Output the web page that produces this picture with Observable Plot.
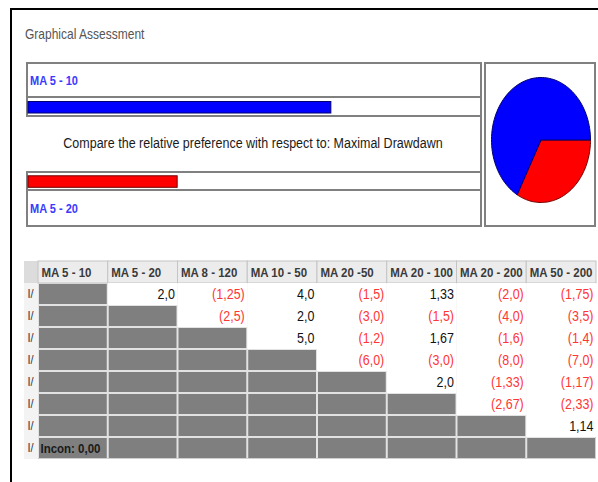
<!DOCTYPE html>
<html><head><meta charset="utf-8">
<script src="https://cdn.jsdelivr.net/npm/d3@7"></script>
<script src="https://cdn.jsdelivr.net/npm/@observablehq/plot@0.6"></script>
<style>
html,body{margin:0;padding:0;background:#fff;}
#root{position:relative;width:598px;height:482px;overflow:hidden;font-family:"Liberation Sans",Arial,sans-serif;}
.abs{position:absolute;box-sizing:border-box;}
.txt{position:absolute;white-space:nowrap;line-height:1;}
svg{position:absolute;overflow:visible;}
</style></head><body><div id="root"></div>
<script>
const FONT = '"Liberation Sans",Arial,sans-serif';
const title = "Graphical Assessment";
const alternatives = ["MA 5 - 10", "MA 5 - 20"];
const priorities = [0.67, 0.33];
const altColors = ["#0000ff", "#ff0000"];
const altStrokes = ["#000070", "#700000"];
const criterion = "Maximal Drawdawn";
const categories = ["MA 5 - 10","MA 5 - 20","MA 8 - 120","MA 10 - 50","MA 20 -50","MA 20 - 100","MA 20 - 200","MA 50 - 200"];
// upper-triangle judgments, row by row; negative = inverse judgment (red, in parentheses)
const judgments = [
  [2.0, -1.25, 4.0, -1.5, 1.33, -2.0, -1.75],
  [-2.5, 2.0, -3.0, -1.5, -4.0, -3.5],
  [5.0, -1.2, 1.67, -1.6, -1.4],
  [-6.0, -3.0, -8.0, -7.0],
  [2.0, -1.33, -1.17],
  [-2.67, -2.33],
  [1.14]
];
const inconsistency = 0.00;
const rowMarks = ["I/","I/","I/","I/","I/","I/","I/","I/"];

const root = document.getElementById("root");
function box(l,t,w,h,css){const d=document.createElement("div");d.className="abs";Object.assign(d.style,{left:l+"px",top:t+"px",width:w+"px",height:h+"px"},css||{});root.appendChild(d);return d;}
function text(s,l,t,css){const d=document.createElement("div");d.className="txt";d.textContent=s;Object.assign(d.style,{left:l+"px",top:t+"px"},css||{});root.appendChild(d);return d;}
function place(svg,l,t){svg.style.left=l+"px";svg.style.top=t+"px";root.appendChild(svg);}
function stretch(svg,k){d3.select(svg).selectAll("text").each(function(){const t=this.getAttribute("transform");if(t)this.setAttribute("transform",t+` scale(1,${k})`);});}

// outer black frame
box(10,8,620,500,{borderLeft:"2px solid #000",borderTop:"2px solid #000"});
text(title,25,29,{fontSize:"12px",color:"#555",transform:"scaleY(1.2)",transformOrigin:"0 10px"});

// left panel frames
const G="#808080";
box(26,62,456,55,{border:"2px solid "+G});
box(26,96,456,2,{background:G});
box(26,171,456,56,{border:"2px solid "+G});
box(26,189,456,2,{background:G});
box(480,62,2,165,{background:G});
// pie panel
box(484,62,112,165,{border:"2px solid "+G});

text(alternatives[0],30,76,{fontSize:"11px",fontWeight:"bold",color:"#3a3aff",transform:"scaleY(1.15)",transformOrigin:"0 9px"});
text(alternatives[1],30,204,{fontSize:"11px",fontWeight:"bold",color:"#3a3aff",transform:"scaleY(1.15)",transformOrigin:"0 9px"});
text("Compare the relative preference with respect to: "+criterion,26,138,{fontSize:"12.5px",color:"#1a1a1a",width:"454px",textAlign:"center",transform:"scaleY(1.22)",transformOrigin:"0 10px"});

// bars
const alts = alternatives.map((a,i)=>({a,p:priorities[i],c:altColors[i],s:altStrokes[i]}));
const bars = Plot.plot({
  width:456,height:164,margin:0,
  x:{domain:[0,1],range:[2,454],axis:null},
  y:{type:"band",domain:alternatives,range:[39.5,125.3],paddingInner:0.845,paddingOuter:0,round:false,axis:null},
  style:{background:"transparent"},
  marks:[Plot.barX(alts,{x:"p",y:"a",fill:"c",stroke:"s",strokeWidth:1})]
});
place(bars,26,62);

// pie
const slices=[];
let a0=0;
for (const i of [1,0]) {
  const a1=a0+priorities[i]*2*Math.PI;
  const pts=[{x:0,y:0}];
  const n=90;
  for(let k=0;k<=n;k++){const t=a0+(a1-a0)*k/n;pts.push({x:Math.cos(t),y:Math.sin(t)});}
  pts.push({x:0,y:0});
  slices.push({i,pts});
  a0=a1;
}
const pie = Plot.plot({
  width:110,height:164,margin:0,
  x:{domain:[-1,1],range:[6,105],axis:null},
  y:{domain:[-1,1],range:[15,140],axis:null},
  style:{background:"transparent"},
  marks: slices.map(s=>Plot.line(s.pts,{x:"x",y:"y",fill:altColors[s.i],stroke:altStrokes[s.i],strokeWidth:1,curve:"linear"}))
});
place(pie,485,62);

// table
const fmt = v => {const a=Math.abs(v);let s=Number.isInteger(a)?a.toFixed(1):String(a);s=s.replace(".",",");return v<0?`(${s})`:s;};
const cells=[];
for(let i=0;i<8;i++)for(let j=0;j<8;j++)cells.push({row:i,col:categories[j],upper:j>i});
const values=judgments.flatMap((r,i)=>r.map((v,k)=>({row:i,col:categories[i+1+k],v})));
const TW=572, TH=198, ML=14;
const colW=(TW-ML)/8;
box(24,261,TW,TH,{background:"#e2e2e2",border:"1px solid #cfcfcf"});
box(24,261,ML,TH,{background:"#f3f3f3"});
box(24,261,ML,22,{background:"#dcdcdc"});
const table = Plot.plot({
  width:TW,height:TH,marginLeft:ML,marginRight:0,marginTop:0,marginBottom:0,
  x:{type:"band",domain:categories,padding:0,axis:null,round:false},
  y:{type:"band",domain:[-1,0,1,2,3,4,5,6,7],padding:0,axis:null,round:false},
  style:{fontFamily:FONT,fontSize:"12px",background:"transparent"},
  marks:[
    Plot.cell(categories,{x:d=>d,y:()=>-1,fill:"#ececec",stroke:"#c4c4c4",strokeWidth:1}),
    Plot.text(categories,{x:d=>d,y:()=>-1,text:d=>d,fill:"#3a3a3a",fontWeight:"bold",fontSize:11.5,textAnchor:"start",dx:-colW/2+3}),
    Plot.cell(cells.filter(d=>d.upper),{x:"col",y:"row",fill:"#fff"}),
    Plot.cell(cells.filter(d=>!d.upper),{x:"col",y:"row",fill:"#7f7f7f",inset:1}),
    Plot.text(values,{x:"col",y:"row",text:d=>fmt(d.v),fill:d=>d.v<0?"#ff3535":"#111",textAnchor:"end",dx:colW/2-3,fontSize:12.5}),
    Plot.text([inconsistency],{x:()=>categories[0],y:()=>7,text:d=>"Incon: "+d.toFixed(2).replace(".",","),textAnchor:"start",dx:-colW/2+2,fontWeight:"bold",fill:"#1a1a1a",fontSize:11.5}),
    Plot.text(rowMarks,{y:(d,i)=>i,frameAnchor:"left",dx:-11,textAnchor:"start",text:d=>d,fill:"#334",fontSize:11})
  ]
});
stretch(table,1.12);
place(table,24,261);
</script></body></html>
